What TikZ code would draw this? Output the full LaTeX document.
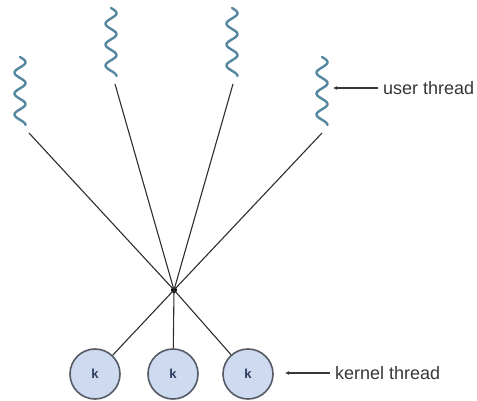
\documentclass[tikz,border=0pt]{standalone}
\usepackage{fontspec}
\setmainfont{Liberation Sans}
\usetikzlibrary{arrows.meta}
\definecolor{threadc}{RGB}{85,135,160}
\definecolor{linkc}{RGB}{45,45,45}
\definecolor{ringc}{RGB}{85,90,100}
\definecolor{kfill}{RGB}{205,218,240}
\definecolor{ktext}{RGB}{45,60,95}
\definecolor{lblc}{RGB}{55,55,55}
\begin{document}
\begin{tikzpicture}[x=1pt,y=-1pt,
  wave/.style={draw=threadc, line width=2.4pt, line cap=round},
  link/.style={draw=linkc, line width=1.1pt},
  kern/.style={circle, draw=ringc, line width=1.6pt, fill=kfill, minimum size=50pt, inner sep=0pt, font=\fontsize{13}{13}\selectfont\bfseries, text=ktext},
  lbl/.style={anchor=west, inner sep=0pt, text=lblc, font=\fontsize{18}{19}\selectfont},
  pointer/.style={draw=lblc, line width=1.3pt, -{Latex[length=4pt,width=4pt]}}
]
\useasboundingbox (0,0) rectangle (477,401);

% user threads (wavy)
\foreach \cx/\ty in {20/57, 111/8, 232/8, 322/57}{
  \draw[wave] plot[domain=0:68, samples=90, smooth] ({\cx + 5.5*sin(\x/68*3.25*360)}, {\ty+\x});
}
\coordinate (u1) at (29,133);
\coordinate (u2) at (115,84);
\coordinate (u3) at (233,84);
\coordinate (u4) at (322,133);

% hub
\node[circle, fill=black, minimum size=6pt, inner sep=0pt] (hub) at (174,290) {};

% kernel threads
\node[kern] (k1) at (95,374) {k};
\node[kern] (k2) at (173,374) {k};
\node[kern] (k3) at (248,374) {k};

% links
\foreach \n in {1,2,3,4}{ \draw[link] (u\n) -- (hub.center); }
\foreach \n in {1,2,3}{ \draw[link] (hub.center) -- (k\n); }

% labels
\node[lbl] (ul) at (383,88) {user thread};
\coordinate (ua) at (333,88);
\draw[pointer] (ul.west) ++(-5,0) -- (ua);
\node[lbl] (kl) at (335,373) {kernel thread};
\coordinate (ka) at (285,373);
\draw[pointer] (kl.west) ++(-5,0) -- (ka);
\end{tikzpicture}
\end{document}
